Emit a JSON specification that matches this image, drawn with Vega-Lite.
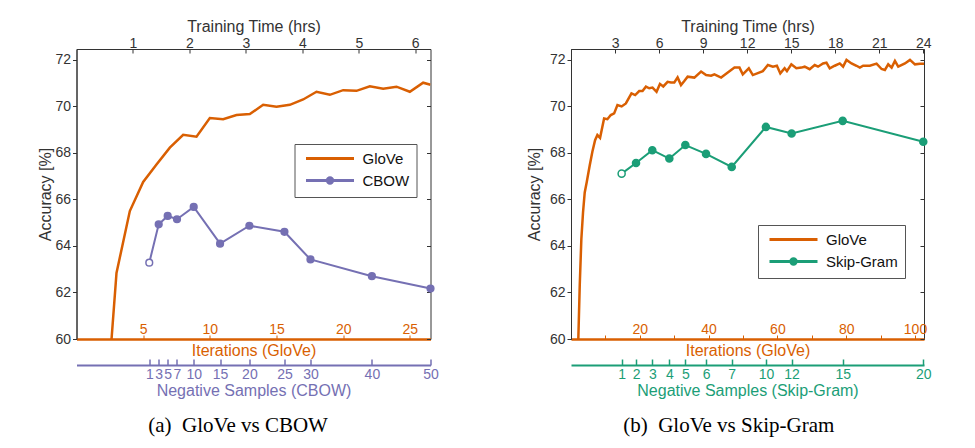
{
  "$schema": "https://vega.github.io/schema/vega-lite/v6.json",
  "background": "white",
  "padding": {"left": 36.5, "top": 17, "right": 5, "bottom": 5},
  "datasets": {
    "glove_a": [
      {"iter": 2, "acc": 55.2}, {"iter": 3, "acc": 62.84}, {"iter": 4, "acc": 65.5}, {"iter": 5, "acc": 66.75},
      {"iter": 6, "acc": 67.5}, {"iter": 7, "acc": 68.23}, {"iter": 8, "acc": 68.78}, {"iter": 9, "acc": 68.7},
      {"iter": 10, "acc": 69.5}, {"iter": 11, "acc": 69.45}, {"iter": 12, "acc": 69.63}, {"iter": 13, "acc": 69.67},
      {"iter": 14, "acc": 70.07}, {"iter": 15, "acc": 69.99}, {"iter": 16, "acc": 70.07}, {"iter": 17, "acc": 70.3},
      {"iter": 18, "acc": 70.63}, {"iter": 19, "acc": 70.5}, {"iter": 20, "acc": 70.7}, {"iter": 21, "acc": 70.67},
      {"iter": 22, "acc": 70.87}, {"iter": 23, "acc": 70.76}, {"iter": 24, "acc": 70.85}, {"iter": 25, "acc": 70.63},
      {"iter": 26, "acc": 71.02}, {"iter": 26.55, "acc": 70.93}
    ],
    "cbow": [
      {"neg": 1, "hrs": 1.289, "acc": 63.28}, {"neg": 3, "hrs": 1.456, "acc": 64.93}, {"neg": 5, "hrs": 1.615, "acc": 65.29},
      {"neg": 7, "hrs": 1.78, "acc": 65.15}, {"neg": 10, "hrs": 2.076, "acc": 65.68}, {"neg": 15, "hrs": 2.543, "acc": 64.1},
      {"neg": 20, "hrs": 3.062, "acc": 64.87}, {"neg": 25, "hrs": 3.683, "acc": 64.61}, {"neg": 30, "hrs": 4.144, "acc": 63.42},
      {"neg": 40, "hrs": 5.232, "acc": 62.7}, {"neg": 50, "hrs": 6.27, "acc": 62.17}
    ],
    "glove_b": [
      {"iter": 1.5, "acc": 56.5}, {"iter": 2.54, "acc": 62.3}, {"iter": 3.01, "acc": 64.3}, {"iter": 3.5, "acc": 65.45},
      {"iter": 3.99, "acc": 66.3}, {"iter": 4.58, "acc": 66.75}, {"iter": 5.45, "acc": 67.47}, {"iter": 6.21, "acc": 68.05},
      {"iter": 7.0, "acc": 68.55}, {"iter": 7.67, "acc": 68.77}, {"iter": 8.45, "acc": 68.65}, {"iter": 9.62, "acc": 69.48},
      {"iter": 10.58, "acc": 69.45}, {"iter": 11.57, "acc": 69.63}, {"iter": 12.54, "acc": 69.7}, {"iter": 13.5, "acc": 70.06},
      {"iter": 14.72, "acc": 70.0}, {"iter": 15.95, "acc": 70.13}, {"iter": 17.58, "acc": 70.56}, {"iter": 18.66, "acc": 70.49},
      {"iter": 19.83, "acc": 70.66}, {"iter": 20.79, "acc": 70.66}, {"iter": 21.78, "acc": 70.85}, {"iter": 22.74, "acc": 70.78},
      {"iter": 23.7, "acc": 70.81}, {"iter": 24.87, "acc": 70.63}, {"iter": 25.86, "acc": 70.97}, {"iter": 26.82, "acc": 70.86},
      {"iter": 28.08, "acc": 71.06}, {"iter": 29.07, "acc": 71.03}, {"iter": 30.03, "acc": 71.03}, {"iter": 30.99, "acc": 71.25},
      {"iter": 31.98, "acc": 70.92}, {"iter": 32.94, "acc": 71.09}, {"iter": 33.91, "acc": 71.28}, {"iter": 35.86, "acc": 71.24},
      {"iter": 37.81, "acc": 71.5}, {"iter": 39.27, "acc": 71.35}, {"iter": 40.73, "acc": 71.32}, {"iter": 41.69, "acc": 71.38},
      {"iter": 43.64, "acc": 71.24}, {"iter": 44.61, "acc": 71.35}, {"iter": 47.52, "acc": 71.67}, {"iter": 48.98, "acc": 71.67},
      {"iter": 49.94, "acc": 71.38}, {"iter": 51.69, "acc": 71.64}, {"iter": 52.86, "acc": 71.35}, {"iter": 55.77, "acc": 71.52},
      {"iter": 57.23, "acc": 71.78}, {"iter": 58.69, "acc": 71.71}, {"iter": 59.85, "acc": 71.75}, {"iter": 60.85, "acc": 71.42},
      {"iter": 62.1, "acc": 71.64}, {"iter": 62.77, "acc": 71.52}, {"iter": 64.05, "acc": 71.81}, {"iter": 65.51, "acc": 71.64},
      {"iter": 66.97, "acc": 71.67}, {"iter": 67.93, "acc": 71.71}, {"iter": 69.39, "acc": 71.6}, {"iter": 70.85, "acc": 71.78},
      {"iter": 71.81, "acc": 71.71}, {"iter": 73.27, "acc": 71.85}, {"iter": 74.26, "acc": 71.88}, {"iter": 75.22, "acc": 71.64},
      {"iter": 76.68, "acc": 71.75}, {"iter": 78.13, "acc": 71.85}, {"iter": 79.1, "acc": 71.71}, {"iter": 80.09, "acc": 72.0},
      {"iter": 81.55, "acc": 71.85}, {"iter": 83.0, "acc": 71.75}, {"iter": 83.97, "acc": 71.67}, {"iter": 84.93, "acc": 71.75},
      {"iter": 86.88, "acc": 71.75}, {"iter": 88.83, "acc": 71.84}, {"iter": 90.29, "acc": 71.61}, {"iter": 91.25, "acc": 71.57},
      {"iter": 92.22, "acc": 71.81}, {"iter": 93.21, "acc": 71.67}, {"iter": 94.17, "acc": 71.96}, {"iter": 95.13, "acc": 71.71},
      {"iter": 97.08, "acc": 71.85}, {"iter": 98.54, "acc": 72.0}, {"iter": 99.99, "acc": 71.81}, {"iter": 101.46, "acc": 71.84},
      {"iter": 102.62, "acc": 71.84}
    ],
    "skip": [
      {"neg": 1, "hrs": 3.45, "acc": 67.11}, {"neg": 2, "hrs": 4.43, "acc": 67.57}, {"neg": 3, "hrs": 5.54, "acc": 68.12},
      {"neg": 4, "hrs": 6.7, "acc": 67.76}, {"neg": 5, "hrs": 7.79, "acc": 68.34}, {"neg": 6, "hrs": 9.2, "acc": 67.96},
      {"neg": 7, "hrs": 10.95, "acc": 67.4}, {"neg": 10, "hrs": 13.28, "acc": 69.12}, {"neg": 12, "hrs": 15.03, "acc": 68.84},
      {"neg": 15, "hrs": 18.51, "acc": 69.38}, {"neg": 20, "hrs": 24.0, "acc": 68.48}
    ]
  },
  "spacing": 85.5,
  "hconcat": [
    {
      "width": 354,
      "height": 290,
      "title": {"text": "(a)\u2002GloVe vs CBOW"},
      "layer": [
        {
          "data": {"name": "glove_a"},
          "mark": {"type": "line", "strokeWidth": 2.5, "clip": true},
          "encoding": {
            "x": {"field": "iter", "type": "quantitative", "scale": {"domain": [0, 26.55], "nice": false, "zero": false},
              "axis": {"orient": "bottom", "values": [5, 10, 15, 20, 25], "title": "Iterations (GloVe)", "domainColor": "#d95f02", "domainWidth": 2.5,
                "tickColor": "#d95f02", "tickSize": -4, "labelColor": "#d95f02", "titleColor": "#d95f02", "labelPadding": -2, "labelBaseline": "alphabetic", "titlePadding": 3}},
            "y": {"field": "acc", "type": "quantitative", "scale": {"domain": [60, 72.47], "nice": false, "zero": false},
              "axis": {"orient": "left", "values": [60, 62, 64, 66, 68, 70, 72], "title": "Accuracy [%]", "tickSize": 4, "labelPadding": 2, "titlePadding": 1}},
            "color": {"datum": "GloVe", "type": "nominal", "scale": {"domain": ["GloVe", "CBOW"], "range": ["#d95f02", "#7570b3"]},
              "legend": {"title": null, "orient": "none", "legendX": 218, "legendY": 95, "strokeColor": "#555", "fillColor": "white", "padding": 7,
                "symbolSize": 144, "symbolStrokeWidth": 3, "symbolOffset": 3, "labelOffset": 43, "rowPadding": 4,
                "encode": {"symbols": {"update": {"shape": [{"test": "datum.value === 'CBOW'", "value": "M-1,0H7M2.55,0A0.45,0.45 0 1 0 3.45,0A0.45,0.45 0 1 0 2.55,0Z"}, {"value": "M-1,0H7"}]}}}}}
          }
        },
        {
          "data": {"name": "cbow"},
          "mark": {"type": "line", "strokeWidth": 2},
          "encoding": {
            "x": {"field": "hrs", "type": "quantitative", "scale": {"domain": [0, 6.27], "nice": false, "zero": false},
              "axis": {"orient": "bottom", "offset": 26, "values": [1.289, 1.456, 1.615, 1.78, 2.076, 2.543, 3.062, 3.683, 4.144, 5.232, 6.27],
                "labelExpr": "['1','3','5','7','10','15','20','25','30','40','50'][indexof([1.289, 1.456, 1.615, 1.78, 2.076, 2.543, 3.062, 3.683, 4.144, 5.232, 6.27], datum.value)]",
                "title": "Negative Samples (CBOW)", "domainColor": "#7570b3", "domainWidth": 2, "tickColor": "#7570b3", "tickSize": -6, "tickWidth": 1.5,
                "labelColor": "#7570b3", "titleColor": "#7570b3", "labelPadding": 8, "titlePadding": 1}},
            "y": {"field": "acc", "type": "quantitative", "scale": {"domain": [60, 72.47], "nice": false, "zero": false}, "axis": null},
            "color": {"datum": "CBOW", "type": "nominal"}
          }
        },
        {
          "data": {"name": "cbow"},
          "mark": {"type": "circle", "size": 45, "opacity": 1, "stroke": "#7570b3", "strokeWidth": 1.5},
          "encoding": {
            "x": {"field": "hrs", "type": "quantitative", "scale": {"domain": [0, 6.27], "nice": false, "zero": false},
              "axis": {"orient": "top", "values": [1, 2, 3, 4, 5, 6], "title": "Training Time (hrs)", "tickSize": -4, "labelPadding": 3, "titlePadding": 2}},
            "y": {"field": "acc", "type": "quantitative", "scale": {"domain": [60, 72.47], "nice": false, "zero": false},
              "axis": {"orient": "right", "values": [60, 62, 64, 66, 68, 70, 72], "title": null, "labels": false, "domain": false, "tickSize": -4}},
            "fill": {"condition": {"test": "datum.neg == 1", "value": "white"}, "value": "#7570b3"}
          }
        }
      ],
      "resolve": {"scale": {"x": "independent", "y": "independent"}, "axis": {"x": "independent", "y": "independent"}}
    },
    {
      "width": 353,
      "height": 290,
      "title": {"text": "(b)\u2002GloVe vs Skip-Gram"},
      "layer": [
        {
          "data": {"name": "glove_b"},
          "mark": {"type": "line", "strokeWidth": 2.5, "clip": true},
          "encoding": {
            "x": {"field": "iter", "type": "quantitative", "scale": {"domain": [0, 102.62], "nice": false, "zero": false},
              "axis": {"orient": "bottom", "values": [10, 20, 30, 40, 50, 60, 70, 80, 90, 100], "labelExpr": "datum.value % 20 == 0 ? datum.label : ''",
                "title": "Iterations (GloVe)", "domainColor": "#d95f02", "domainWidth": 2.5,
                "tickColor": "#d95f02", "tickSize": -4, "labelColor": "#d95f02", "titleColor": "#d95f02", "labelPadding": -2, "labelBaseline": "alphabetic", "titlePadding": 3}},
            "y": {"field": "acc", "type": "quantitative", "scale": {"domain": [60, 72.47], "nice": false, "zero": false},
              "axis": {"orient": "left", "values": [60, 62, 64, 66, 68, 70, 72], "title": "Accuracy [%]", "tickSize": 4, "labelPadding": 2, "titlePadding": 7}},
            "color": {"datum": "GloVe", "type": "nominal", "scale": {"domain": ["GloVe", "Skip-Gram"], "range": ["#d95f02", "#1b9e77"]},
              "legend": {"title": null, "orient": "none", "legendX": 187, "legendY": 176, "strokeColor": "#555", "fillColor": "white", "padding": 7,
                "symbolSize": 144, "symbolStrokeWidth": 3, "symbolOffset": 3, "labelOffset": 43, "rowPadding": 4,
                "encode": {"symbols": {"update": {"shape": [{"test": "datum.value === 'Skip-Gram'", "value": "M-1,0H7M2.55,0A0.45,0.45 0 1 0 3.45,0A0.45,0.45 0 1 0 2.55,0Z"}, {"value": "M-1,0H7"}]}}}}}
          }
        },
        {
          "data": {"name": "skip"},
          "mark": {"type": "line", "strokeWidth": 2},
          "encoding": {
            "x": {"field": "hrs", "type": "quantitative", "scale": {"domain": [0, 24.05], "nice": false, "zero": false},
              "axis": {"orient": "bottom", "offset": 26, "values": [3.45, 4.43, 5.54, 6.7, 7.79, 9.2, 10.95, 13.28, 15.03, 18.51, 24.0],
                "labelExpr": "['1','2','3','4','5','6','7','10','12','15','20'][indexof([3.45, 4.43, 5.54, 6.7, 7.79, 9.2, 10.95, 13.28, 15.03, 18.51, 24.0], datum.value)]",
                "title": "Negative Samples (Skip-Gram)", "domainColor": "#1b9e77", "domainWidth": 2, "tickColor": "#1b9e77", "tickSize": -6, "tickWidth": 1.5,
                "labelColor": "#1b9e77", "titleColor": "#1b9e77", "labelPadding": 8, "titlePadding": 1}},
            "y": {"field": "acc", "type": "quantitative", "scale": {"domain": [60, 72.47], "nice": false, "zero": false}, "axis": null},
            "color": {"datum": "Skip-Gram", "type": "nominal"}
          }
        },
        {
          "data": {"name": "skip"},
          "mark": {"type": "circle", "size": 50, "opacity": 1, "stroke": "#1b9e77", "strokeWidth": 1.5},
          "encoding": {
            "x": {"field": "hrs", "type": "quantitative", "scale": {"domain": [0, 24.05], "nice": false, "zero": false},
              "axis": {"orient": "top", "values": [3, 6, 9, 12, 15, 18, 21, 24], "title": "Training Time (hrs)", "tickSize": -4, "labelPadding": 3, "titlePadding": 2}},
            "y": {"field": "acc", "type": "quantitative", "scale": {"domain": [60, 72.47], "nice": false, "zero": false},
              "axis": {"orient": "right", "values": [60, 62, 64, 66, 68, 70, 72], "title": null, "labels": false, "domain": false, "tickSize": -4}},
            "fill": {"condition": {"test": "datum.neg == 1", "value": "white"}, "value": "#1b9e77"}
          }
        }
      ],
      "resolve": {"scale": {"x": "independent", "y": "independent"}, "axis": {"x": "independent", "y": "independent"}}
    }
  ],
  "resolve": {"scale": {"color": "independent", "x": "independent", "y": "independent"}, "legend": {"color": "independent"}},
  "config": {
    "font": "Liberation Sans",
    "view": {"stroke": "#333", "strokeWidth": 1},
    "axis": {"grid": false, "labelFont": "Liberation Sans", "titleFont": "Liberation Sans", "labelFontSize": 14, "titleFontSize": 16,
      "titleFontWeight": "normal", "labelColor": "#333", "titleColor": "#333", "tickColor": "#333", "domainColor": "#333",
      "labelOverlap": false, "labelFlush": false, "tickWidth": 1},
    "legend": {"labelFont": "Liberation Sans", "labelFontSize": 15, "labelColor": "#111"},
    "title": {"font": "Liberation Serif", "fontSize": 21, "fontWeight": "normal", "color": "#000", "orient": "bottom", "anchor": "middle", "frame": "bounds", "offset": 17}
  }
}
